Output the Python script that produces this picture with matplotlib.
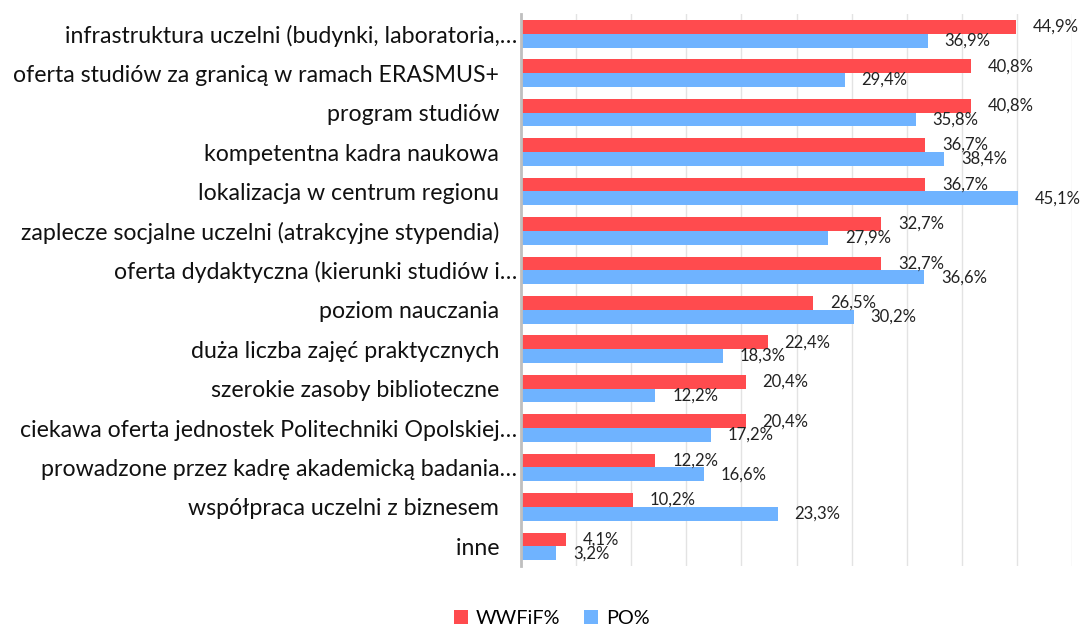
import matplotlib
matplotlib.use("Agg")
import matplotlib.pyplot as plt
import numpy as np

categories = [
    "infrastruktura uczelni (budynki, laboratoria,…",
    "oferta studiów za granicą w ramach ERASMUS+",
    "program studiów",
    "kompetentna kadra naukowa",
    "lokalizacja w centrum regionu",
    "zaplecze socjalne uczelni (atrakcyjne stypendia)",
    "oferta dydaktyczna (kierunki studiów i…",
    "poziom nauczania",
    "duża liczba zajęć praktycznych",
    "szerokie zasoby biblioteczne",
    "ciekawa oferta jednostek Politechniki Opolskiej…",
    "prowadzone przez kadrę akademicką badania…",
    "współpraca uczelni z biznesem",
    "inne",
]
wwfif = [44.9, 40.8, 40.8, 36.7, 36.7, 32.7, 32.7, 26.5, 22.4, 20.4, 20.4, 12.2, 10.2, 4.1]
po = [36.9, 29.4, 35.8, 38.4, 45.1, 27.9, 36.6, 30.2, 18.3, 12.2, 17.2, 16.6, 23.3, 3.2]

plt.rcParams['font.family'] = ['Lato', 'DejaVu Sans']

red = '#FF4B4E'
blue = '#6FB3FF'

fig = plt.figure(figsize=(10.82, 6.26), dpi=100)
ax = fig.add_axes([0.4815, 0.0958, 0.5093, 0.8818])

y = np.arange(len(categories))
h = 0.35
b1 = ax.barh(y - h / 2, wwfif, height=h, color=red, label='WWFiF%')
b2 = ax.barh(y + h / 2, po, height=h, color=blue, label='PO%')

fmt = lambda v: f"{v:.1f}%".replace('.', ',')
ax.bar_label(b1, labels=[fmt(v) for v in wwfif], padding=12, fontsize=12, color='#222222')
ax.bar_label(b2, labels=[fmt(v) for v in po], padding=12, fontsize=12, color='#222222')

ax.set_xlim(0, 50)
ax.set_ylim(len(categories) - 0.5, -0.5)
ax.set_xticks(np.arange(5, 51, 5))
ax.tick_params(axis='x', length=0, labelbottom=False)
ax.grid(axis='x', color='#E3E3E3', linewidth=1)
ax.set_axisbelow(True)

# Excel leaves a trailing gap after labels that were not cut short
ticklabels = [c if c.endswith('…') else c + '   ' for c in categories]
ax.set_yticks(y)
ax.set_yticklabels(ticklabels, fontsize=16.7, color='#111111')
ax.tick_params(axis='y', length=0, pad=3)

for s in ['top', 'right', 'bottom']:
    ax.spines[s].set_visible(False)
ax.spines['left'].set_color('#BFBFBF')
ax.spines['left'].set_linewidth(2)

fig.legend(loc='lower center', bbox_to_anchor=(0.51, -0.03), ncol=2, frameon=False,
           fontsize=14.3, handlelength=0.7, handleheight=0.7, handletextpad=0.4,
           columnspacing=1.2)

fig.savefig('out.png', dpi=100)
